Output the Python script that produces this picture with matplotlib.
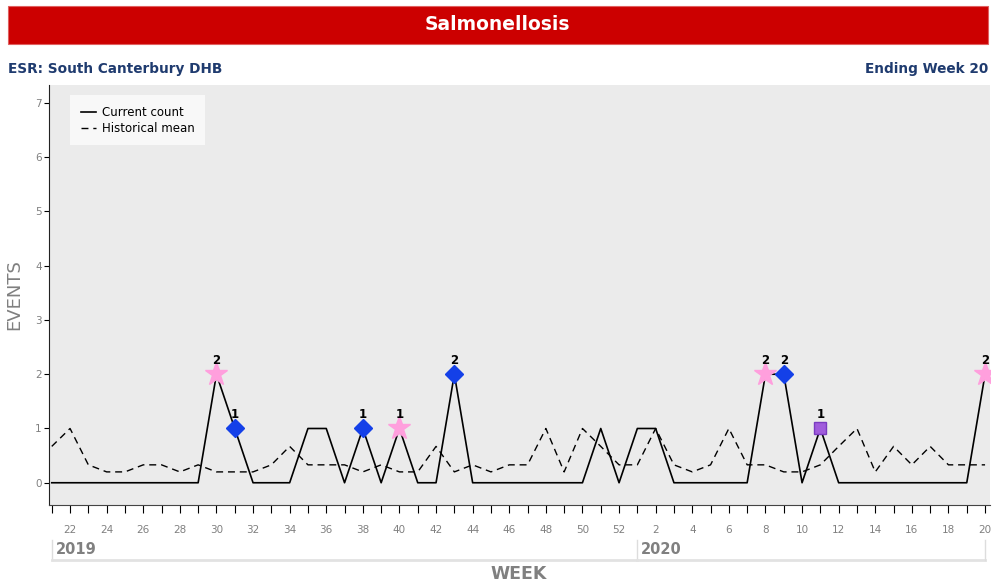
import matplotlib
matplotlib.use("Agg")
import matplotlib.pyplot as plt
import matplotlib.transforms as mtransforms
from matplotlib.patches import Rectangle

# weeks shown: 2019 wk 21-52, 2020 wk 1-20
week_2019 = list(range(21, 53))
week_2020 = list(range(1, 21))
weeks = week_2019 + week_2020
years = ['2019'] * len(week_2019) + ['2020'] * len(week_2020)

current = [0, 0, 0, 0, 0, 0, 0, 0, 0, 2, 1, 0, 0, 0, 1, 1, 0, 1, 0, 1, 0, 0, 2,
           0, 0, 0, 0, 0, 0, 0, 1, 0,
           1, 1, 0, 0, 0, 0, 0, 2, 2, 0, 1, 0, 0, 0, 0, 0, 0, 0, 0, 2]
hist_mean = [0.67, 1.0, 0.33, 0.2, 0.2, 0.33, 0.33, 0.2, 0.33, 0.2, 0.2, 0.2, 0.33,
             0.67, 0.33, 0.33, 0.33, 0.2, 0.33, 0.2, 0.2, 0.67, 0.2, 0.33, 0.2,
             0.33, 0.33, 1.0, 0.2, 1.0, 0.67, 0.33,
             0.33, 1.0, 0.33, 0.2, 0.33, 1.0, 0.33, 0.33, 0.2, 0.2, 0.33, 0.67,
             1.0, 0.2, 0.67, 0.33, 0.67, 0.33, 0.33, 0.33]

# flagged weeks (year, week)
star_weeks = [('2019', 30), ('2019', 40), ('2020', 8), ('2020', 20)]
diamond_weeks = [('2019', 31), ('2019', 38), ('2019', 43), ('2020', 9)]
square_weeks = [('2020', 11)]

keys = list(zip(years, weeks))
x = list(range(len(weeks)))

grey = '#808080'
fig = plt.figure(figsize=(9.94, 5.87), dpi=100)
W, H = 994, 587

# red title bar
fig.patches.append(Rectangle((8 / W, 1 - 44 / H), 980 / W, 38 / H, transform=fig.transFigure,
                             facecolor='#CC0000', edgecolor='#E06060', lw=0.8))
fig.text(0.5, 1 - 25 / H, 'Salmonellosis', color='white', fontsize=13.5, fontweight='bold',
         ha='center', va='center', family=['Liberation Sans Narrow', 'DejaVu Sans'])
fig.text(8 / W, 1 - 69 / H, 'ESR: South Canterbury DHB', color='#1F3B6F', fontsize=9.8,
         fontweight='bold', ha='left', va='center', family=['Liberation Sans Narrow', 'DejaVu Sans'])
fig.text(988 / W, 1 - 69 / H, 'Ending Week 20', color='#1F3B6F', fontsize=9.8,
         fontweight='bold', ha='right', va='center', family=['Liberation Sans Narrow', 'DejaVu Sans'])

ax = fig.add_axes([49 / W, 82 / H, 941 / W, 420 / H])
ax.set_facecolor('#EBEBEB')
ax.plot(x, hist_mean, color='black', lw=1.0, ls=(0, (5, 3.5)), label='Historical mean')
ax.plot(x, current, color='black', lw=1.2, label='Current count')

for group, mk, col, ec, ms in [(star_weeks, '*', '#FF9FDD', '#FF9FDD', 17),
                               (diamond_weeks, 'D', '#1440E8', '#1440E8', 9),
                               (square_weeks, 's', '#A05CDC', '#7A3CC0', 8)]:
    idx = [keys.index(k) for k in group]
    ax.plot(idx, [current[i] for i in idx], ls='none', marker=mk, color=col,
            markeredgecolor=ec, markersize=ms, zorder=3)
    for i in idx:
        ax.annotate(str(current[i]), (i, current[i]), xytext=(0, 10), textcoords='offset points',
                    ha='center', va='center', fontsize=8.5, fontweight='bold', color='black')

ax.set_xlim(-0.15, 51.27)
ax.set_ylim(-0.41, 7.33)
ax.set_yticks(range(8))
ax.set_xticks(x)
ax.set_xticklabels([str(w) if w % 2 == 0 else '' for w in weeks])
ax.tick_params(axis='y', length=3.6, pad=1.5, labelsize=7.5, labelcolor=grey)
ax.tick_params(axis='x', length=6, pad=8.5, labelsize=7.5, labelcolor=grey)
for s in ['top', 'right']:
    ax.spines[s].set_visible(False)
ax.spines['left'].set_color('#222222')
ax.spines['bottom'].set_color('#444444')

leg = ax.legend(handles=ax.lines[1::-1], loc='upper left', bbox_to_anchor=(0.016, 0.99),
                fontsize=8.5, frameon=True, fancybox=False, handlelength=1.3,
                handletextpad=0.5, borderpad=0.9, labelspacing=0.25)
leg.get_frame().set_facecolor('#F8F8F8')
leg.get_frame().set_edgecolor('none')
leg.get_frame().set_alpha(1)

# year boxes below axis
trans = mtransforms.blended_transform_factory(ax.transData, ax.transAxes)
y_top, y_bot = -35 / 420, -55 / 420
n19 = len(week_2019)
for x0, x1, label in [(0, n19, '2019'), (n19, len(weeks) - 1, '2020')]:
    ax.plot([x0, x0], [y_top, y_bot], color='#DDDDDD', lw=1, transform=trans, clip_on=False)
    ax.plot([x0, x1], [y_bot, y_bot], color='#E2E2E2', lw=2, transform=trans, clip_on=False)
    ax.text(x0 + 0.2, (y_top + y_bot) / 2, label, transform=trans, fontsize=10.5, fontweight='bold',
            color=grey, ha='left', va='center')
ax.plot([len(weeks) - 1, len(weeks) - 1], [y_top, y_bot], color='#DDDDDD', lw=1,
        transform=trans, clip_on=False)

ax.set_ylabel('EVENTS', fontsize=13, color=grey, labelpad=9)
fig.text(519 / W, 1 - 574 / H, 'WEEK', fontsize=12.5, fontweight='bold', color=grey,
         ha='center', va='center')

fig.savefig('out.png', dpi=100)
